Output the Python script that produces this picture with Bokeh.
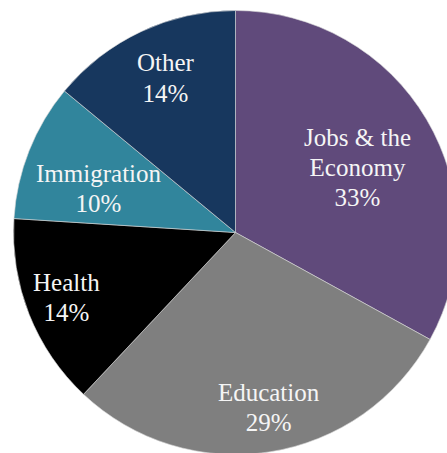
import math
from bokeh.plotting import figure
from bokeh.models import Range1d, ColumnDataSource
from bokeh.core.properties import value
from bokeh.embed import file_html
from bokeh.resources import INLINE

# data
categories = ["Jobs & the\nEconomy", "Education", "Health", "Immigration", "Other"]
shares = [33, 29, 14, 10, 14]
colors = ["#604A7B", "#7F7F7F", "#000000", "#31859C", "#17375E"]
# label placement (style): radial fraction and angular nudge in degrees
label_radius_frac = [0.623, 0.802, 0.816, 0.648, 0.764]
label_angle_nudge = [-2.5, 1.7, -0.6, 3.8, -0.8]

W, H = 447, 453
p = figure(width=W, height=H, output_backend="svg", toolbar_location=None,
           x_range=Range1d(0, W), y_range=Range1d(0, H),
           min_border=0, match_aspect=False)
p.axis.visible = False
p.grid.visible = False
p.outline_line_color = None
p.background_fill_color = "white"
p.border_fill_color = "white"

cx, cy, r = 235, H - 232, 222
total = sum(shares)
starts, ends, lx, ly, texts = [], [], [], [], []
cum = 0
for cat, s, f, nd in zip(categories, shares, label_radius_frac, label_angle_nudge):
    a0 = math.pi / 2 - 2 * math.pi * (cum + s) / total
    a1 = math.pi / 2 - 2 * math.pi * cum / total
    starts.append(a0)
    ends.append(a1)
    mid = (a0 + a1) / 2 + math.radians(nd)
    lx.append(cx + f * r * math.cos(mid))
    ly.append(cy + f * r * math.sin(mid))
    texts.append(f"{cat}\n{s}%")
    cum += s

src = ColumnDataSource(dict(start=starts, end=ends, color=colors))
p.wedge(x=cx, y=cy, radius=r, start_angle="start", end_angle="end",
        fill_color="color", line_color="#d9d9d9", line_width=0.6, source=src)

lsrc = ColumnDataSource(dict(x=lx, y=ly, t=texts))
p.text(x="x", y="y", text="t", source=lsrc, text_align="center",
       text_baseline="middle", text_color="#f5f5f5",
       text_font=value("Liberation Serif"), text_font_size="25px",
       text_line_height=1.12)

open("out.html", "w").write(file_html(p, INLINE))
